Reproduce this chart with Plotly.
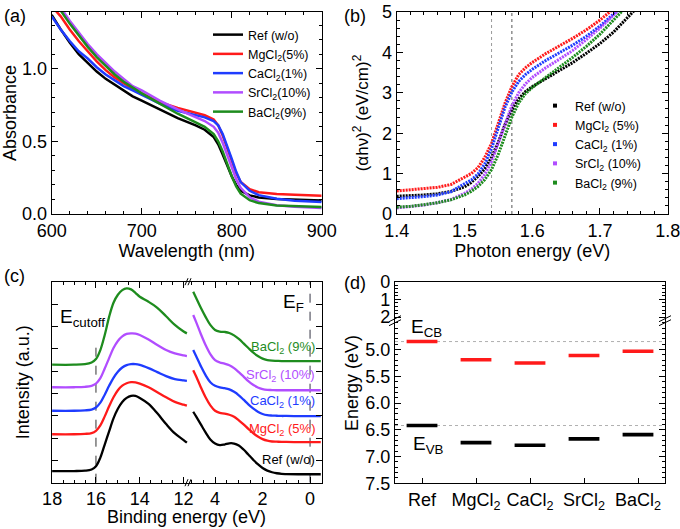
import plotly.graph_objects as go

FONT = "Liberation Sans, Arial, sans-serif"
W, H = 680, 529

# ---------------- data ----------------
names_a = ["Ref (w/o)", "MgCl<sub>2</sub>(5%)", "CaCl<sub>2</sub>(1%)", "SrCl<sub>2</sub>(10%)", "BaCl<sub>2</sub>(9%)"]
names_b = ["Ref (w/o)", "MgCl<sub>2</sub> (5%)", "CaCl<sub>2</sub> (1%)", "SrCl<sub>2</sub> (10%)", "BaCl<sub>2</sub> (9%)"]
names_c = ["Ref (w/o)", "MgCl<sub>2</sub> (5%)", "CaCl<sub>2</sub> (1%)", "SrCl<sub>2</sub> (10%)", "BaCl<sub>2</sub> (9%)"]
colors = ["#000000", "#ff1a1a", "#1f3cff", "#b14dff", "#1e8c1e"]

# (a) absorbance
wavelength = [600, 610, 620, 630, 640, 650, 660, 670, 680, 690, 700, 720, 740, 760, 770, 780, 785, 790, 795,
              800, 805, 810, 820, 830, 850, 870, 900]
abs_ref = [1.37, 1.27, 1.18, 1.10, 1.04, 0.98, 0.93, 0.89, 0.85, 0.81, 0.78, 0.72, 0.66, 0.61, 0.58, 0.53, 0.48,
           0.41, 0.33, 0.26, 0.20, 0.16, 0.128, 0.114, 0.104, 0.098, 0.093]
abs_mg = [1.43, 1.36, 1.27, 1.19, 1.12, 1.05, 0.99, 0.94, 0.90, 0.86, 0.83, 0.77, 0.73, 0.70, 0.68, 0.65, 0.61,
          0.54, 0.45, 0.36, 0.28, 0.22, 0.17, 0.150, 0.138, 0.132, 0.125]
abs_ca = [1.36, 1.27, 1.19, 1.12, 1.07, 1.01, 0.96, 0.92, 0.88, 0.85, 0.82, 0.76, 0.71, 0.68, 0.665, 0.64, 0.61,
          0.55, 0.47, 0.38, 0.29, 0.22, 0.16, 0.13, 0.105, 0.092, 0.082]
abs_sr = [1.50, 1.42, 1.33, 1.25, 1.17, 1.10, 1.04, 0.98, 0.93, 0.88, 0.85, 0.78, 0.72, 0.67, 0.64, 0.60, 0.56,
          0.49, 0.41, 0.32, 0.24, 0.18, 0.115, 0.085, 0.060, 0.050, 0.042]
abs_ba = [1.48, 1.40, 1.31, 1.23, 1.15, 1.08, 1.02, 0.96, 0.91, 0.87, 0.83, 0.76, 0.69, 0.63, 0.60, 0.55, 0.50,
          0.43, 0.34, 0.26, 0.19, 0.14, 0.095, 0.075, 0.058, 0.052, 0.048]

# (b) Tauc plot
photon_energy = [1.40, 1.42, 1.44, 1.46, 1.48, 1.50, 1.51, 1.52, 1.53, 1.54, 1.55, 1.56, 1.57, 1.58, 1.59, 1.60,
                 1.62, 1.64, 1.66, 1.68, 1.70, 1.72, 1.74, 1.76]
tauc_ref = [0.44, 0.45, 0.47, 0.50, 0.56, 0.67, 0.78, 0.93, 1.12, 1.40, 1.78, 2.22, 2.58, 2.85, 3.03, 3.15,
            3.35, 3.55, 3.75, 3.98, 4.22, 4.50, 4.85, 5.20]
tauc_mg = [0.57, 0.60, 0.63, 0.66, 0.73, 0.90, 1.00, 1.15, 1.40, 1.75, 2.25, 2.75, 3.15, 3.45, 3.62, 3.75,
           3.97, 4.15, 4.35, 4.56, 4.80, 5.08, 5.35, 5.60]
tauc_ca = [0.38, 0.40, 0.43, 0.47, 0.55, 0.75, 0.84, 0.99, 1.24, 1.62, 2.15, 2.65, 3.02, 3.28, 3.45, 3.58,
           3.80, 3.98, 4.18, 4.40, 4.65, 4.95, 5.25, 5.50]
tauc_sr = [0.15, 0.18, 0.22, 0.28, 0.36, 0.51, 0.61, 0.76, 0.98, 1.30, 1.75, 2.25, 2.68, 3.00, 3.22, 3.38,
           3.62, 3.83, 4.05, 4.32, 4.60, 4.92, 5.25, 5.50]
tauc_ba = [0.17, 0.19, 0.23, 0.28, 0.35, 0.47, 0.56, 0.68, 0.85, 1.10, 1.48, 1.95, 2.40, 2.75, 2.98, 3.13,
           3.38, 3.62, 3.88, 4.15, 4.45, 4.80, 5.15, 5.50]
gap_lines = [1.54, 1.57]

# (c) UPS, high binding energy segment (cutoff)
be_left = [18.0, 17.0, 16.5, 16.2, 16.0, 15.8, 15.6, 15.4, 15.2, 15.0, 14.8, 14.6, 14.4, 14.2, 14.0, 13.6, 13.2,
           12.8, 12.4, 12.0, 11.85]
ups_l_ref = [0.58, 0.58, 0.60, 0.66, 0.82, 1.25, 1.90, 2.55, 3.20, 3.68, 4.02, 4.22, 4.32, 4.32, 4.22, 3.92, 3.45,
             2.92, 2.45, 2.12, 1.99]
ups_l_mg = [2.41, 2.41, 2.43, 2.47, 2.58, 2.85, 3.30, 3.80, 4.25, 4.60, 4.83, 4.95, 5.00, 4.99, 4.93, 4.75, 4.50,
            4.25, 4.02, 3.88, 3.83]
ups_l_ca = [3.58, 3.58, 3.60, 3.64, 3.74, 3.98, 4.38, 4.82, 5.22, 5.52, 5.73, 5.85, 5.90, 5.90, 5.86, 5.70, 5.50,
            5.30, 5.15, 5.09, 5.07]
ups_l_sr = [4.75, 4.75, 4.77, 4.82, 4.93, 5.20, 5.68, 6.20, 6.70, 7.05, 7.28, 7.40, 7.43, 7.42, 7.35, 7.12, 6.85,
            6.60, 6.43, 6.33, 6.30]
ups_l_ba = [5.87, 5.87, 5.90, 5.98, 6.15, 6.60, 7.35, 8.25, 8.95, 9.35, 9.58, 9.67, 9.62, 9.45, 9.25, 9.00, 8.70,
            8.28, 7.85, 7.52, 7.43]
# (c) UPS, valence band segment
be_right = [4.92, 4.8, 4.6, 4.4, 4.2, 4.0, 3.8, 3.6, 3.4, 3.2, 3.0, 2.8, 2.6, 2.4, 2.2, 2.0, 1.8, 1.6, 1.4, 1.2,
            1.0, 0.5, 0.0, -0.45]
ups_r_ref = [3.53, 3.30, 2.90, 2.50, 2.15, 1.95, 1.87, 1.90, 1.96, 1.95, 1.85, 1.65, 1.40, 1.15, 0.92, 0.73, 0.60,
             0.52, 0.47, 0.44, 0.43, 0.42, 0.42, 0.42]
ups_r_mg = [5.60, 5.30, 4.75, 4.25, 3.85, 3.58, 3.47, 3.44, 3.38, 3.28, 3.10, 2.90, 2.68, 2.47, 2.30, 2.17, 2.09,
            2.05, 2.04, 2.03, 2.03, 2.02, 2.02, 2.02]
ups_r_ca = [6.60, 6.30, 5.80, 5.35, 5.00, 4.82, 4.74, 4.70, 4.64, 4.52, 4.35, 4.13, 3.90, 3.70, 3.53, 3.42, 3.36,
            3.34, 3.33, 3.32, 3.32, 3.31, 3.31, 3.31]
ups_r_sr = [8.34, 8.00, 7.40, 6.85, 6.40, 6.10, 5.98, 5.92, 5.84, 5.70, 5.50, 5.28, 5.05, 4.87, 4.74, 4.66, 4.62,
            4.61, 4.60, 4.60, 4.60, 4.60, 4.60, 4.60]
ups_r_ba = [9.50, 9.20, 8.70, 8.25, 7.85, 7.60, 7.52, 7.50, 7.45, 7.33, 7.15, 6.93, 6.70, 6.48, 6.30, 6.17, 6.10,
            6.07, 6.06, 6.05, 6.05, 6.05, 6.05, 6.05]
e_cutoff = 16.0
e_fermi = 0.0

# (d) band positions
samples = ["Ref", "MgCl<sub>2</sub>", "CaCl<sub>2</sub>", "SrCl<sub>2</sub>", "BaCl<sub>2</sub>"]
e_cb = [4.85, 5.19, 5.25, 5.11, 5.03]
e_vb = [6.42, 6.74, 6.79, 6.67, 6.59]
energy_ticks_low = [5.0, 5.5, 6.0, 6.5, 7.0, 7.5]
energy_ticks_high = [0, 1, 2]

# ---------------- figure ----------------
def px_x(p):
    return p / W

def px_y(p):
    return 1 - p / H

fig = go.Figure()

abs_series = [abs_ref, abs_mg, abs_ca, abs_sr, abs_ba]
for n, c, ys in zip(names_a, colors, abs_series):
    fig.add_trace(go.Scatter(x=wavelength, y=ys, mode="lines", name=n, line=dict(color=c, width=2.5),
                             xaxis="x", yaxis="y", legend="legend"))

tauc_series = [tauc_ref, tauc_mg, tauc_ca, tauc_sr, tauc_ba]
for n, c, ys in zip(names_b, colors, tauc_series):
    fig.add_trace(go.Scatter(x=photon_energy, y=ys, mode="lines", showlegend=False,
                             line=dict(color=c, width=3, dash="2px,1px"), xaxis="x2", yaxis="y2"))
for n, c in zip(names_b, colors):
    fig.add_trace(go.Scatter(x=[None], y=[None], mode="markers", name=n,
                             marker=dict(color=c, size=4, symbol="square"),
                             xaxis="x2", yaxis="y2", legend="legend2"))

left_series = [ups_l_ref, ups_l_mg, ups_l_ca, ups_l_sr, ups_l_ba]
right_series = [ups_r_ref, ups_r_mg, ups_r_ca, ups_r_sr, ups_r_ba]
for c, yl, yr in zip(colors, left_series, right_series):
    fig.add_trace(go.Scatter(x=be_left, y=yl, mode="lines", showlegend=False,
                             line=dict(color=c, width=2.3, shape="spline"), xaxis="x3", yaxis="y3"))
    fig.add_trace(go.Scatter(x=be_right, y=yr, mode="lines", showlegend=False,
                             line=dict(color=c, width=2.3, shape="spline"), xaxis="x4", yaxis="y4"))

fig.add_trace(go.Scatter(x=samples, y=e_cb, mode="markers", showlegend=False,
                         marker=dict(symbol="line-ew", size=22, line=dict(width=3.6, color="#ff1a1a")),
                         xaxis="x5", yaxis="y5"))
fig.add_trace(go.Scatter(x=samples, y=e_vb, mode="markers", showlegend=False,
                         marker=dict(symbol="line-ew", size=22, line=dict(width=3.6, color="#000000")),
                         xaxis="x5", yaxis="y5"))
fig.add_trace(go.Scatter(x=samples, y=[None] * len(samples), mode="markers", showlegend=False,
                         xaxis="x6", yaxis="y6"))


def axis(**kw):
    base = dict(showline=True, linecolor="black", linewidth=1.3, ticks="inside", ticklen=6, tickwidth=1.2,
                tickcolor="black", mirror="ticks", showgrid=False, zeroline=False, automargin=False,
                ticklabeloverflow="allow",
                tickfont=dict(size=18, color="black", family=FONT),
                title_font=dict(size=18, color="black", family=FONT))
    base.update(kw)
    return base


def minor(d, t0=0):
    return dict(ticks="inside", ticklen=3, tickwidth=1, tickcolor="black", dtick=d, tick0=t0, showgrid=False)


dom_a = [px_x(51.7), px_x(321.7)]
dom_b = [px_x(396.7), px_x(667.7)]
dom_top = [px_y(214), px_y(12)]
dom_c = [px_y(482.7), px_y(281.7)]
brk_c = px_x(188)
dom_d = [px_x(395), px_x(665)]
brk_d = px_y(320.7)

fig.update_layout(
    width=W, height=H, margin=dict(l=0, r=0, t=0, b=0, autoexpand=False),
    paper_bgcolor="white", plot_bgcolor="white",
    font=dict(family=FONT, color="black", size=14),
    xaxis=axis(domain=dom_a, anchor="y", range=[600, 900], dtick=100, minor=minor(20),
               title=dict(text="Wavelength (nm)", standoff=0)),
    yaxis=axis(domain=dom_top, anchor="x", range=[0, 1.39], dtick=0.5, tickformat=".1f", minor=minor(0.1),
               title=dict(text="Absorbance", standoff=4)),
    xaxis2=axis(domain=dom_b, anchor="y2", range=[1.4, 1.8], dtick=0.1, tickformat=".1f", minor=minor(0.02),
                title=dict(text="Photon energy (eV)", standoff=0)),
    yaxis2=axis(domain=dom_top, anchor="x2", range=[0, 5], dtick=1, minor=minor(0.2),
                title=dict(text="(αhν)<sup>2</sup> (eV/cm)<sup>2</sup>", standoff=8, font=dict(size=17))),
    xaxis3=axis(domain=[dom_a[0], brk_c], anchor="y3", range=[18.02, 11.8], dtick=2, tick0=0, minor=minor(0.5)),
    xaxis4=axis(domain=[brk_c, dom_a[1]], anchor="y4", range=[5.14, -0.49], dtick=2, tick0=0, minor=minor(0.5)),
    yaxis3=axis(domain=dom_c, anchor="x3", range=[0, 10], dtick=10 / 9, tick0=0, showticklabels=False,
                mirror=False, title=dict(text="Intensity (a.u.)", standoff=16)),
    yaxis4=axis(domain=dom_c, anchor="x4", side="right", range=[0, 10], dtick=10 / 9, tick0=0,
                showticklabels=False, mirror=False),
    xaxis5=axis(domain=dom_d, anchor="y5", type="category", range=[-0.5, 4.5], mirror=False, ticklen=5),
    yaxis5=axis(domain=[px_y(483.3), brk_d], anchor="x5", range=[7.5, 4.46], tickmode="array",
                tickvals=energy_ticks_low, tickformat=".1f", minor=minor(0.1)),
    xaxis6=axis(domain=dom_d, anchor="y6", type="category", range=[-0.5, 4.5], side="top", mirror=False,
                ticks="", showticklabels=False),
    yaxis6=axis(domain=[brk_d, px_y(281.7)], anchor="x6", range=[2.2, 0], tickmode="array",
                tickvals=energy_ticks_high, minor=minor(0.2)),
    legend=dict(x=px_x(208), y=px_y(20), xanchor="left", yanchor="top", bgcolor="rgba(0,0,0,0)",
                font=dict(size=12.5, family=FONT), tracegroupgap=0, itemwidth=30),
    legend2=dict(x=px_x(535), y=px_y(91), xanchor="left", yanchor="top", bgcolor="rgba(0,0,0,0)",
                 font=dict(size=12.5, family=FONT), tracegroupgap=0, itemwidth=30),
)

shapes = []
for i, g in enumerate(gap_lines):
    shapes.append(dict(type="line", xref="x2", yref="y2 domain", x0=g, x1=g, y0=0, y1=1, layer="below",
                       line=dict(color="#9a9a9a" if i == 0 else "#555555", width=1, dash="dot")))
shapes.append(dict(type="line", xref="x3", yref="y3", x0=e_cutoff, x1=e_cutoff, y0=0, y1=7.1, layer="below",
                   line=dict(color="#333333", width=1, dash="dash")))
shapes.append(dict(type="line", xref="x4", yref="y4", x0=e_fermi, x1=e_fermi, y0=0, y1=10, layer="below",
                   line=dict(color="#333344", width=1, dash="dash")))
for v in (e_cb[0], e_vb[0]):
    shapes.append(dict(type="line", xref="x5 domain", yref="y5", x0=0, x1=1, y0=v, y1=v, layer="below",
                       line=dict(color="#b0b0b0", width=1, dash="dot")))

# axis-break marks
def brk(cx, cy, dx, dy, gap_x, gap_y):
    out = []
    for s in (-1, 1):
        ox, oy = s * gap_x / 2, s * gap_y / 2
        out.append(dict(type="line", xref="paper", yref="paper",
                        x0=px_x(cx + ox - dx), y0=px_y(cy + oy + dy),
                        x1=px_x(cx + ox + dx), y1=px_y(cy + oy - dy),
                        line=dict(color="black", width=1)))
    return out

shapes += brk(188, 281.7, 1.5, 3.5, 3, 0)
shapes += brk(188, 482.7, 1.5, 3.5, 3, 0)
shapes += brk(395, 320.7, 6, 3, 0, 4)
shapes += brk(665, 320.7, 6, 3, 0, 4)
fig.update_layout(shapes=shapes)

ann = []
for t, x, y in [("(a)", 2, 16), ("(b)", 342, 16), ("(c)", 2, 276), ("(d)", 342, 283)]:
    ann.append(dict(text=t, xref="paper", yref="paper", x=px_x(x), y=px_y(y), xanchor="left", yanchor="middle",
                    showarrow=False, font=dict(size=18, family=FONT)))
label_y = [1.13, 2.66, 4.06, 5.31, 6.74]
for n, c, ly in zip(names_c, colors, label_y):
    ann.append(dict(text=n, xref="x4", yref="y4", x=-0.3, y=ly, xanchor="right", yanchor="middle",
                    showarrow=False, font=dict(size=13, color=c, family=FONT)))
ann.append(dict(text="E<sub>cutoff</sub>", xref="x3", yref="y3", x=16.6, y=8.2, showarrow=False,
                font=dict(size=19, family=FONT)))
ann.append(dict(text="E<sub>F</sub>", xref="x4", yref="y4", x=0.7, y=8.95, showarrow=False,
                font=dict(size=19, family=FONT)))
ann.append(dict(text="Binding energy (eV)", xref="paper", yref="paper", x=px_x(186.7), y=px_y(517),
                showarrow=False, xanchor="center", yanchor="middle", font=dict(size=18, family=FONT)))
ann.append(dict(text="Energy (eV)", xref="paper", yref="paper", x=px_x(352), y=px_y(383), textangle=-90,
                showarrow=False, xanchor="center", yanchor="middle", font=dict(size=18, family=FONT)))
ann.append(dict(text="E<sub>CB</sub>", xref="x5", yref="y5", x=-0.24, y=4.59, xanchor="left", showarrow=False,
                font=dict(size=19, family=FONT)))
ann.append(dict(text="E<sub>VB</sub>", xref="x5", yref="y5", x=-0.2, y=6.78, xanchor="left", showarrow=False,
                font=dict(size=19, family=FONT)))
fig.update_layout(annotations=ann)

fig.write_html("out.html", config={"displayModeBar": False},
               post_script="document.body.style.margin='0';document.body.style.overflow='hidden';")
